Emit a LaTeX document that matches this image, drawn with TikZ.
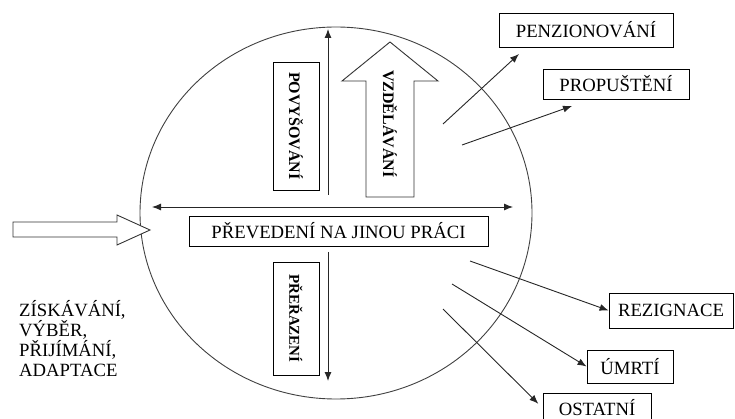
\documentclass[tikz,border=0pt]{standalone}
\usepackage{fontspec}
\setmainfont{Liberation Serif}
\usetikzlibrary{arrows.meta}

\begin{document}
\begin{tikzpicture}[x=1pt,y=-1pt,
  box/.style={draw=black,line width=0.9pt,inner sep=0pt},
  lbl/.style={font=\fontsize{18.7}{20}\selectfont},
  conn/.style={draw=black!85,line width=0.9pt,-{Latex[length=9pt,width=7pt]}},
  hollow/.style={draw=black!80,line width=0.9pt,fill=white}]
\useasboundingbox (0,0) rectangle (735,419);

% the organisation
\draw[black!75,line width=0.9pt] (336,213) ellipse [x radius=196,y radius=186];

% internal movements
\coordinate (upBot) at (328,195);
\coordinate (upTop) at (328,29);
\draw[conn] (upBot) -- (upTop);
\node[box,minimum width=46pt,minimum height=128pt] (povys) at (296,126)
  {\rotatebox{-90}{\textbf{\fontsize{16}{18}\selectfont POVYŠOVÁNÍ}}};

\draw[hollow] (366,197) -- (366,81) -- (342,81) -- (390,42) -- (438,81)
  -- (414,81) -- (414,197) -- cycle;
\node (vzdel) at (390,124)
  {\rotatebox{-90}{\textbf{\fontsize{16}{18}\selectfont VZDĚLÁVÁNÍ}}};

\coordinate (hLeft) at (152,207);
\coordinate (hRight) at (513,207);
\draw[conn,{Latex[length=9pt,width=7pt]}-{Latex[length=9pt,width=7pt]}] (hLeft) -- (hRight);
\node[box,lbl,minimum width=299pt,minimum height=30pt] (preved) at (338.5,231)
  {PŘEVEDENÍ NA JINOU PRÁCI};

\coordinate (dnTop) at (328,252);
\coordinate (dnBot) at (328,381);
\draw[conn] (dnTop) -- (dnBot);
\node[box,minimum width=46pt,minimum height=113pt] (preraz) at (296,318.5)
  {\rotatebox{-90}{\textbf{\fontsize{15}{17}\selectfont PŘEŘAZENÍ}}};

% inflow
\draw[hollow] (13,222) -- (117,222) -- (117,215) -- (150,230) -- (117,245)
  -- (117,237) -- (13,237) -- cycle;
\node[lbl,anchor=north west,align=left,inner sep=0pt] (vstup) at (19,300)
  {ZÍSKÁVÁNÍ,\\VÝBĚR,\\PŘIJÍMÁNÍ,\\ADAPTACE};

% outflows
\node[box,lbl,minimum width=174pt,minimum height=34pt] (penz) at (586,30) {PENZIONOVÁNÍ};
\node[box,lbl,minimum width=146pt,minimum height=30pt] (prop) at (616,84) {PROPUŠTĚNÍ};
\node[box,lbl,minimum width=124pt,minimum height=35pt] (rez) at (671,310.5) {REZIGNACE};
\node[box,lbl,minimum width=86pt,minimum height=33pt] (umrti) at (630,366.5) {ÚMRTÍ};
\node[box,lbl,minimum width=108pt,minimum height=30pt] (ost) at (597,408) {OSTATNÍ};

\coordinate (sPenz) at (443,124);
\coordinate (tPenz) at (519,54);
\coordinate (sProp) at (462,145);
\coordinate (tProp) at (572,106);
\coordinate (sRez) at (470,261);
\coordinate (sUmrti) at (452,284);
\coordinate (sOst) at (443,309);

\draw[conn] (sPenz) -- (tPenz);
\draw[conn] (sProp) -- (tProp);
\draw[conn] (sRez) -- (rez.west);
\draw[conn] (sUmrti) -- (umrti.west);
\draw[conn,shorten >=6pt] (sOst) -- (ost.west);
\end{tikzpicture}
\end{document}
